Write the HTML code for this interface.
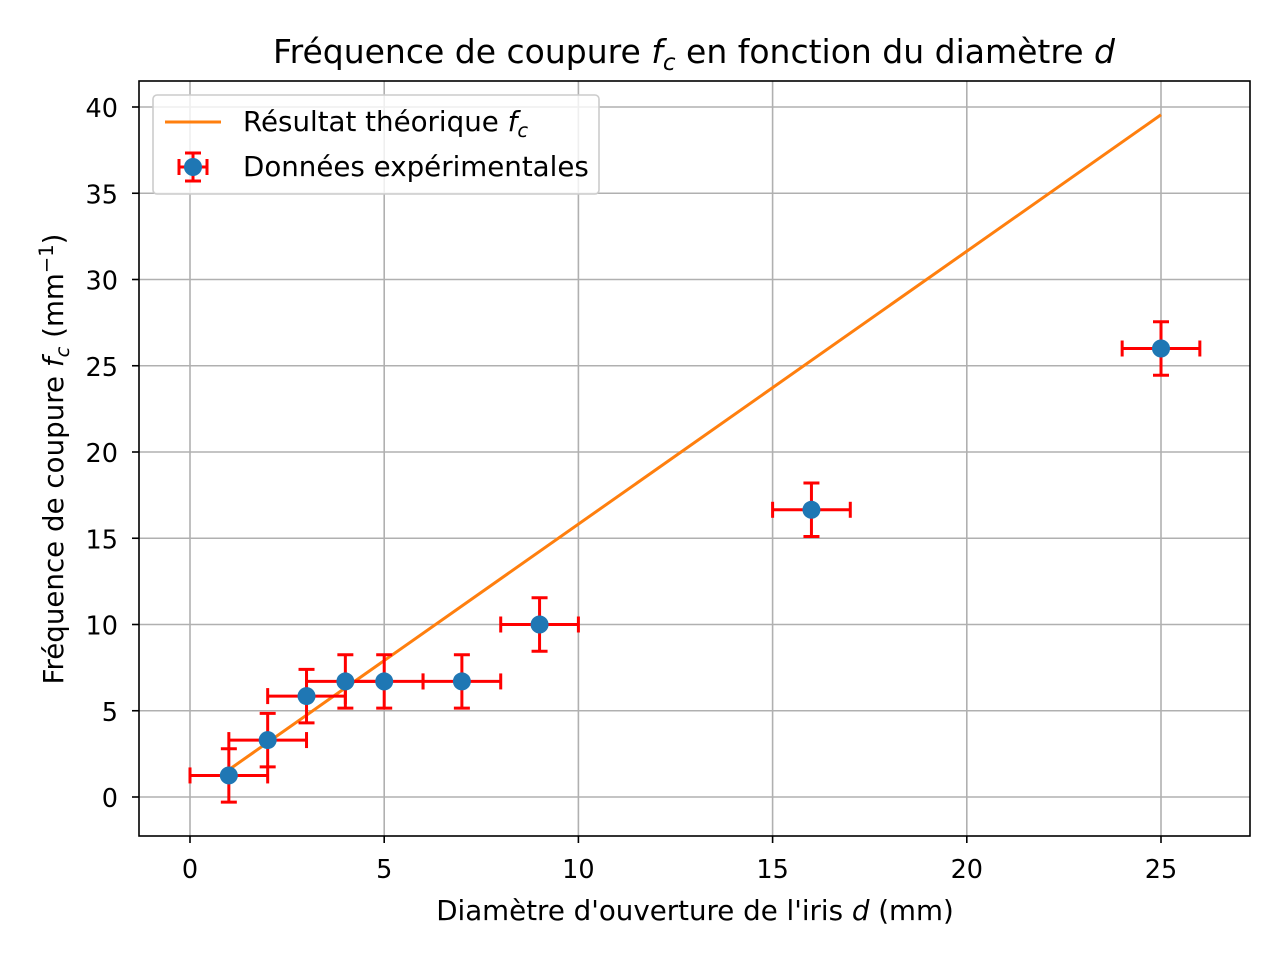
<!DOCTYPE html>
<html><head><meta charset="utf-8"><style>
body{margin:0;background:#fff;font-family:"Liberation Sans","DejaVu Sans",sans-serif}
svg text{font-family:"DejaVu Sans","Liberation Sans",sans-serif;fill:#000}
</style></head><body>
<svg id="c" width="1280" height="960" xmlns="http://www.w3.org/2000/svg"></svg>
<script>
const xData=[1,2,3,4,5,7,9,16,25];
const yData=[1.25,3.3,5.85,6.7,6.7,6.7,10,16.65,26];
const xErr=[1,1,1,1,1,1,1,1,1];
const yErr=[1.55,1.55,1.55,1.55,1.55,1.55,1.55,1.55,1.55];
const lineX=[1,25];
const lineY=[1.58,39.55];
const xTicks=[0,5,10,15,20,25];
const yTicks=[0,5,10,15,20,25,30,35,40];
const L=139,R=1250,T=81,B=836;
const sx=v=>190+v*(1161-190)/25;
const sy=v=>797-v*(797-107)/40;
const svg=document.getElementById('c');
const NS='http://www.w3.org/2000/svg';
function mk(tag,attrs,parent){const e=document.createElementNS(NS,tag);for(const k in attrs)e.setAttribute(k,attrs[k]);(parent||svg).appendChild(e);return e;}
xTicks.forEach(t=>{const g=mk('line',{x1:sx(t),x2:sx(t),y1:T,y2:B,stroke:'#b0b0b0','stroke-width':1.6});


mk('line',{x1:sx(t),x2:sx(t),y1:B,y2:B+7,stroke:'#000','stroke-width':1.6});
const tx=mk('text',{x:sx(t),y:B+42,'text-anchor':'middle','font-size':25.5});tx.textContent=t;

});
yTicks.forEach(t=>{const g=mk('line',{x1:L,x2:R,y1:sy(t),y2:sy(t),stroke:'#b0b0b0','stroke-width':1.6});


mk('line',{x1:L-7,x2:L,y1:sy(t),y2:sy(t),stroke:'#000','stroke-width':1.6});
const tx=mk('text',{x:L-21,y:sy(t)+10,'text-anchor':'end','font-size':25.5});tx.textContent=t;

});
const pl=mk('polyline',{points:lineX.map((x,i)=>sx(x)+','+sy(lineY[i])).join(' '),fill:'none',stroke:'#ff7f0e','stroke-width':3});


xData.forEach((x,i)=>{const y=yData[i];const g=mk('g',{stroke:'#ff0000','stroke-width':3});


const x0=sx(x-xErr[i]),x1=sx(x+xErr[i]),y0=sy(y-yErr[i]),y1=sy(y+yErr[i]),cx=sx(x),cy=sy(y);
mk('line',{x1:x0,x2:x1,y1:cy,y2:cy},g);mk('line',{x1:cx,x2:cx,y1:y0,y2:y1},g);
mk('line',{x1:x0,x2:x0,y1:cy-8,y2:cy+8},g);mk('line',{x1:x1,x2:x1,y1:cy-8,y2:cy+8},g);
mk('line',{x1:cx-8,x2:cx+8,y1:y0,y2:y0},g);mk('line',{x1:cx-8,x2:cx+8,y1:y1,y2:y1},g);});
xData.forEach((x,i)=>{const c=mk('circle',{cx:sx(x),cy:sy(yData[i]),r:9,fill:'#1f77b4'});

});
const fr=mk('rect',{x:L,y:T,width:R-L,height:B-T,fill:'none',stroke:'#000','stroke-width':1.6});


</script>
<svg width="1280" height="960" style="position:absolute;left:0;top:0" xmlns="http://www.w3.org/2000/svg">
<text x="694" y="63" text-anchor="middle" font-size="33">Fréquence de coupure <tspan font-style="italic">f</tspan><tspan font-style="italic" font-size="23" dy="7">c</tspan><tspan dy="-7"> en fonction du diamètre </tspan><tspan font-style="italic">d</tspan></text>
<text x="695" y="920" text-anchor="middle" font-size="27.7">Diamètre d'ouverture de l'iris <tspan font-style="italic">d</tspan> (mm)</text>
<text transform="translate(63,459) rotate(-90)" text-anchor="middle" font-size="27.7">Fréquence de coupure <tspan font-style="italic">f</tspan><tspan font-style="italic" font-size="19.5" dy="6">c</tspan><tspan dy="-6"> (mm</tspan><tspan font-size="19.5" dy="-10">−1</tspan><tspan dy="10">)</tspan></text>
<g>
<rect x="153" y="95" width="446" height="99" rx="4" fill="#fff" fill-opacity="0.8" stroke="#ccc" stroke-width="1.6"/>
<line x1="165" x2="221" y1="122" y2="122" stroke="#ff7f0e" stroke-width="3"/>
<text x="243" y="131" font-size="27.7">Résultat théorique <tspan font-style="italic">f</tspan><tspan font-style="italic" font-size="19.5" dy="6">c</tspan></text>
<g stroke="#ff0000" stroke-width="3"><line x1="179" x2="207" y1="167" y2="167"/><line x1="193" x2="193" y1="153" y2="181"/><line x1="179" x2="179" y1="159" y2="175"/><line x1="207" x2="207" y1="159" y2="175"/><line x1="185" x2="201" y1="153" y2="153"/><line x1="185" x2="201" y1="181" y2="181"/></g>
<circle cx="193" cy="167" r="9" fill="#1f77b4"/>
<text x="243" y="176" font-size="27.7">Données expérimentales</text>
</g>
</svg>
</body></html>
